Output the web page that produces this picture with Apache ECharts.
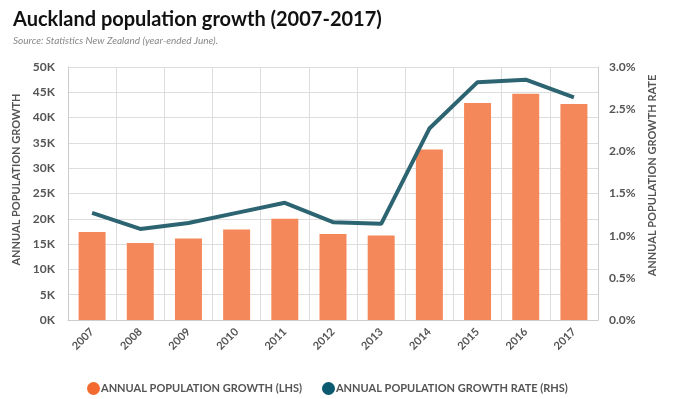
<!DOCTYPE html>
<html>
<head>
<meta charset="utf-8">
<script src="https://cdn.jsdelivr.net/npm/echarts@6/dist/echarts.min.js"></script>
<style>
	body{ margin:0; background:#fff; }
	#main{ width:676px; height:399px; }
</style>
</head>
<body>
<div id="main"></div>
<script type="text/javascript">
// data
var years = ['2007','2008','2009','2010','2011','2012','2013','2014','2015','2016','2017'];
var growth = [17400, 15200, 16100, 17900, 20000, 17000, 16700, 33700, 42900, 44700, 42700];
var growthRate = [1.27, 1.08, 1.15, 1.27, 1.39, 1.16, 1.14, 2.27, 2.82, 2.85, 2.64];
var leftTicks = ['0K','5K','10K','15K','20K','25K','30K','35K','40K','45K','50K'];

var myChart = echarts.init(document.getElementById('main'));
var font = 'Lato, "Open Sans", sans-serif';
var option = {
	animation: false,
	title: {
		text: 'Auckland population growth (2007-2017)',
		subtext: 'Source: Statistics New Zealand (year-ended June).',
		left: 8, top: 5, itemGap: 6,
		textStyle: { fontFamily: font, fontSize: 20, fontWeight: 'bold', color: '#111' },
		subtextStyle: { fontFamily: font, fontSize: 10, fontStyle: 'italic', color: '#888' }
	},
	legend: {
		left: 82, top: 377, itemGap: 20, itemWidth: 13, itemHeight: 13,
		icon: 'circle',
		textStyle: { fontFamily: font, fontSize: 11, fontWeight: 'bold', color: '#555', padding: [0,0,0,-4] },
		data: [
			{ name: 'ANNUAL POPULATION GROWTH (LHS)', itemStyle: { color: '#F26A30' } },
			{ name: 'ANNUAL POPULATION GROWTH RATE (RHS)', itemStyle: { color: '#0B5A70' } }
		]
	},
	grid: { left: 68, right: 78, top: 67, bottom: 79 },
	xAxis: {
		type: 'category',
		data: years,
		axisLine: { lineStyle: { color: '#ccc', width: 1 } },
		axisTick: { show: false },
		splitLine: { show: true, lineStyle: { color: '#ddd' } },
		axisLabel: { rotate: 45, margin: 10, fontFamily: font, fontSize: 11, fontWeight: 'bold', color: '#555', interval: 0 }
	},
	yAxis: [
		{
			type: 'value', min: 0, max: 50000, interval: 5000,
			name: 'ANNUAL POPULATION GROWTH', nameLocation: 'middle', nameGap: 42, nameRotate: 90,
			nameTextStyle: { fontFamily: font, fontSize: 11, fontWeight: 'bold', color: '#555', padding: [0,0,0,28] },
			axisLine: { show: true, lineStyle: { color: '#ccc' } },
			axisTick: { show: false },
			splitLine: { lineStyle: { color: '#ddd' } },
			axisLabel: {
				margin: 13, fontFamily: font, fontSize: 12, fontWeight: 'bold', color: '#555',
				formatter: function (v) { return leftTicks[Math.round(v / 5000)]; }
			}
		},
		{
			type: 'value', min: 0, max: 3, interval: 0.5,
			name: 'ANNUAL POPULATION GROWTH RATE', nameLocation: 'middle', nameGap: 47, nameRotate: 90,
			nameTextStyle: { fontFamily: font, fontSize: 11, fontWeight: 'bold', color: '#555', padding: [0,0,0,36] },
			axisLine: { show: true, lineStyle: { color: '#ccc' } },
			axisTick: { show: false },
			splitLine: { show: false },
			axisLabel: {
				margin: 11, fontFamily: font, fontSize: 12, fontWeight: 'bold', color: '#555',
				formatter: function (v) { return v.toFixed(1) + '%'; }
			}
		}
	],
	series: [
		{
			name: 'ANNUAL POPULATION GROWTH (LHS)',
			type: 'bar',
			data: growth,
			barWidth: '56%',
			itemStyle: { color: '#F5885A' }
		},
		{
			name: 'ANNUAL POPULATION GROWTH RATE (RHS)',
			type: 'line',
			yAxisIndex: 1,
			data: growthRate,
			symbol: 'none',
			itemStyle: { color: '#0B5A70' },
			lineStyle: { color: '#2D6471', width: 4 }
		}
	]
};
myChart.setOption(option);
</script>
</body>
</html>
